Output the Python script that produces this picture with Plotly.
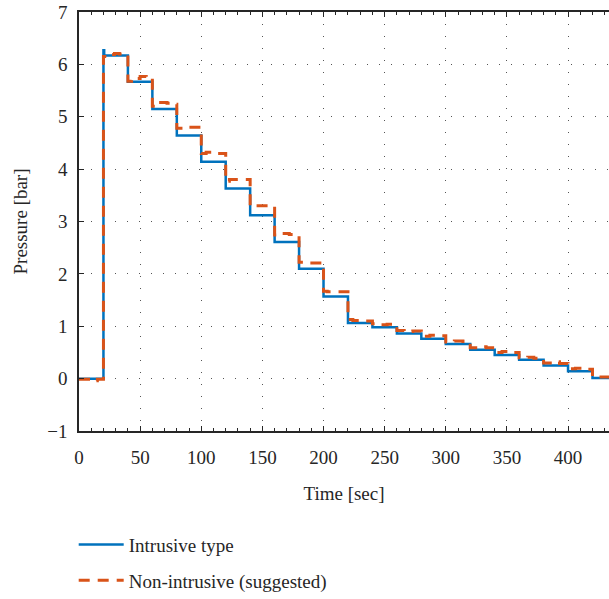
import plotly.graph_objects as go

# Intrusive type (step levels)
intr_t = [0, 20, 20.6, 40, 60, 80, 100, 120, 140, 160, 180, 200, 220, 240, 260, 280, 300, 320, 340, 360, 380, 400, 420, 433.5]
intr_p = [0.0, 6.27, 6.17, 5.67, 5.15, 4.64, 4.14, 3.63, 3.12, 2.61, 2.10, 1.57, 1.06, 0.98, 0.86, 0.76, 0.66, 0.55, 0.45, 0.36, 0.25, 0.14, 0.01, 0.01]

# Non-intrusive (suggested)
non_t = [0, 9, 15, 20, 24, 29, 33, 40, 43, 50, 55, 60, 63, 72, 76, 80, 88, 100, 104, 112, 120, 123, 140, 144,
         160, 163, 172, 180, 184, 200, 203, 220, 224, 232, 240, 246, 252, 260, 266, 273, 280, 287, 292, 300, 307, 314,
         320, 326, 333, 340, 346, 352, 360, 367, 372, 380, 387, 393, 400, 406, 412, 420, 433.5]
non_p = [-0.01, -0.04, -0.01, 6.15, 6.19, 6.21, 6.2, 5.68, 5.73, 5.77, 5.73, 5.2, 5.27, 5.26, 5.24, 4.78, 4.8, 4.3, 4.32, 4.3, 3.77, 3.8, 3.29, 3.3,
         2.74, 2.77, 2.75, 2.22, 2.21, 1.67, 1.66, 1.13, 1.11, 1.1, 1.05, 1.03, 1.04, 0.92, 0.9, 0.91, 0.81, 0.83, 0.82, 0.7, 0.72, 0.71,
         0.59, 0.61, 0.59, 0.5, 0.52, 0.5, 0.4, 0.41, 0.39, 0.3, 0.32, 0.29, 0.19, 0.2, 0.18, 0.03, 0.03]

x_ticks = [0, 50, 100, 150, 200, 250, 300, 350, 400]
y_ticks = [-1, 0, 1, 2, 3, 4, 5, 6, 7]
y_labels = ["\u22121", "0", "1", "2", "3", "4", "5", "6", "7"]

FONT = "Liberation Serif"
INK = "#262626"
FS = 19

fig = go.Figure()
fig.add_trace(go.Scatter(x=intr_t, y=intr_p, mode="lines", line_shape="hv",
                         name="Intrusive type", legendgroup="a",
                         line=dict(color="#0072BD", width=2.5)))
fig.add_trace(go.Scatter(x=non_t, y=non_p, mode="lines", line_shape="hv",
                         name="Non-intrusive (suggested)", legendgroup="b",
                         line=dict(color="#D95319", width=3, dash="11px,8px")))

fig.update_layout(
    width=609, height=599,
    margin=dict(l=79, r=0, t=12, b=168, autoexpand=False),
    plot_bgcolor="white", paper_bgcolor="white",
    font=dict(family=FONT, size=FS, color=INK),
    showlegend=True,
    legend=dict(x=-0.01, y=-0.226, xanchor="left", yanchor="top",
                font=dict(family=FONT, size=FS, color=INK),
                tracegroupgap=8, itemwidth=45, bgcolor="rgba(0,0,0,0)"),
)
fig.update_xaxes(
    range=[0, 433.5], tickvals=x_ticks, ticks="inside", ticklen=5, tickwidth=1, tickcolor=INK,
    showline=True, linecolor=INK, linewidth=1.5, mirror="ticks", automargin=False,
    showgrid=True, gridcolor="#555555", gridwidth=1, griddash="1px,11px",
    zeroline=False, ticklabelstandoff=8,
    minor=dict(dtick=10, ticks="inside", ticklen=3, tickcolor=INK, showgrid=False),
    title=dict(text="Time [sec]", font=dict(family=FONT, size=FS, color=INK), standoff=20),
)
fig.update_yaxes(
    range=[-1, 7], tickvals=y_ticks, ticktext=y_labels, ticks="inside", ticklen=5, tickwidth=1, tickcolor=INK,
    showline=True, linecolor=INK, linewidth=1.5, mirror=False, automargin=False,
    showgrid=True, gridcolor="#555555", gridwidth=1, griddash="1px,11px",
    zeroline=False, ticklabelstandoff=6,
    title=dict(text="Pressure [bar]", font=dict(family=FONT, size=FS, color=INK), standoff=15),
)

fig.write_html("out.html")
